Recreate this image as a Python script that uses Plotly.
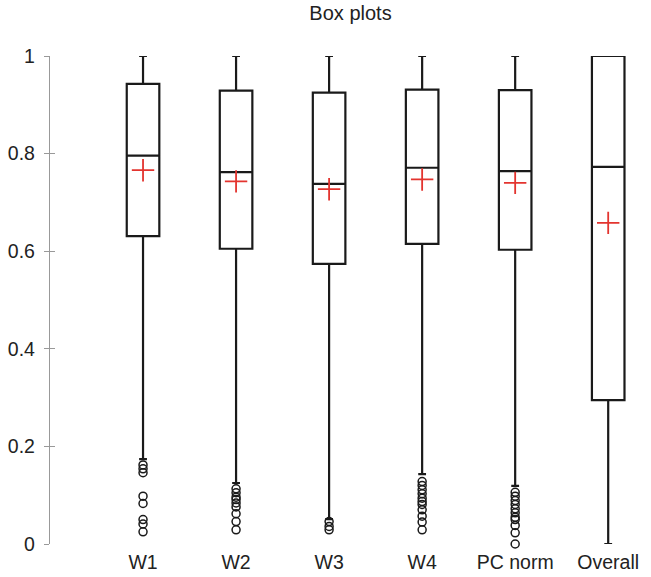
import plotly.graph_objects as go

categories = ["W1", "W2", "W3", "W4", "PC norm", "Overall"]
lower_whisker = [0.174, 0.125, 0.051, 0.143, 0.119, 0.0]
q1 = [0.631, 0.605, 0.574, 0.615, 0.603, 0.295]
median = [0.796, 0.762, 0.738, 0.771, 0.764, 0.773]
q3 = [0.943, 0.929, 0.925, 0.931, 0.930, 1.0]
upper_whisker = [1.0, 1.0, 1.0, 1.0, 1.0, 1.0]
means = [0.766, 0.743, 0.727, 0.747, 0.740, 0.658]

outliers = {
    "W1": [0.162, 0.154, 0.146, 0.098, 0.083, 0.050, 0.041, 0.025],
    "W2": [0.113, 0.105, 0.096, 0.091, 0.084, 0.076, 0.062, 0.046, 0.029],
    "W3": [0.046, 0.036, 0.029],
    "W4": [0.128, 0.120, 0.111, 0.103, 0.094, 0.087, 0.081, 0.070, 0.057, 0.045, 0.029],
    "PC norm": [0.106, 0.098, 0.089, 0.081, 0.072, 0.064, 0.055, 0.050, 0.038, 0.023, 0.0],
    "Overall": [],
}

y_ticks = [0, 0.2, 0.4, 0.6, 0.8, 1]
y_ticktext = ["0", "0.2", "0.4", "0.6", "0.8", "1"]

FONT = "Liberation Sans, Arial, sans-serif"
DARK = "#1a1a1a"

fig = go.Figure()

fig.add_trace(go.Box(
    x=categories,
    q1=q1, median=median, q3=q3,
    lowerfence=lower_whisker, upperfence=upper_whisker,
    fillcolor="rgba(255,255,255,0)",
    line=dict(color=DARK, width=2.2),
    whiskerwidth=0.24,
    boxpoints=False,
    showlegend=False,
    hoverinfo="skip",
))

ox, oy = [], []
for c in categories:
    for v in outliers[c]:
        ox.append(c)
        oy.append(v)

fig.add_trace(go.Scatter(
    x=ox, y=oy, mode="markers",
    marker=dict(symbol="circle-open", size=8, color=DARK, line=dict(width=1.5, color=DARK)),
    showlegend=False, cliponaxis=False, hoverinfo="skip",
))

fig.add_trace(go.Scatter(
    x=categories, y=means, mode="markers",
    marker=dict(symbol="cross-thin", size=16, color="#e3342f", line=dict(width=1.8, color="#e3342f")),
    showlegend=False, cliponaxis=False, hoverinfo="skip",
))

# dummy trace so the overlaying axis (inner half of ticks) is drawn
fig.add_trace(go.Scatter(x=[categories[0]], y=[None], yaxis="y2", mode="markers",
                         showlegend=False, hoverinfo="skip"))

fig.update_layout(
    width=651, height=577,
    margin=dict(l=50, r=0, t=56, b=33, pad=0),
    paper_bgcolor="white", plot_bgcolor="white",
    boxgap=0.5,
    font=dict(family=FONT, size=19.5, color="#222222"),
    title=dict(text="Box plots", x=0.5, xref="paper", xanchor="center",
               y=1 - 12.5 / 577, yref="container", yanchor="middle",
               font=dict(family=FONT, size=20, color="#222222")),
    xaxis=dict(
        type="category", categoryorder="array", categoryarray=categories,
        range=[-1, 5.46], showline=False, showgrid=False, zeroline=False,
        ticks="", tickfont=dict(size=19.5, color="#222222"),
        ticklabelstandoff=4,
    ),
    yaxis=dict(
        range=[0, 1], tickvals=y_ticks, ticktext=y_ticktext,
        showline=True, linecolor="#999999", linewidth=1.4,
        ticks="outside", ticklen=5, tickwidth=1.4, tickcolor="#999999",
        showgrid=False, zeroline=False,
        tickfont=dict(size=19.5, color="#222222"),
        ticklabelstandoff=5,
    ),
    yaxis2=dict(
        range=[0, 1], tickvals=y_ticks, overlaying="y", side="left",
        showline=False, ticks="inside", ticklen=5, tickwidth=1.4, tickcolor="#999999",
        showticklabels=False, showgrid=False, zeroline=False,
    ),
)

fig.write_html("out.html", config={"displayModeBar": False},
               post_script="document.body.style.margin='0';document.body.style.overflow='hidden';")
